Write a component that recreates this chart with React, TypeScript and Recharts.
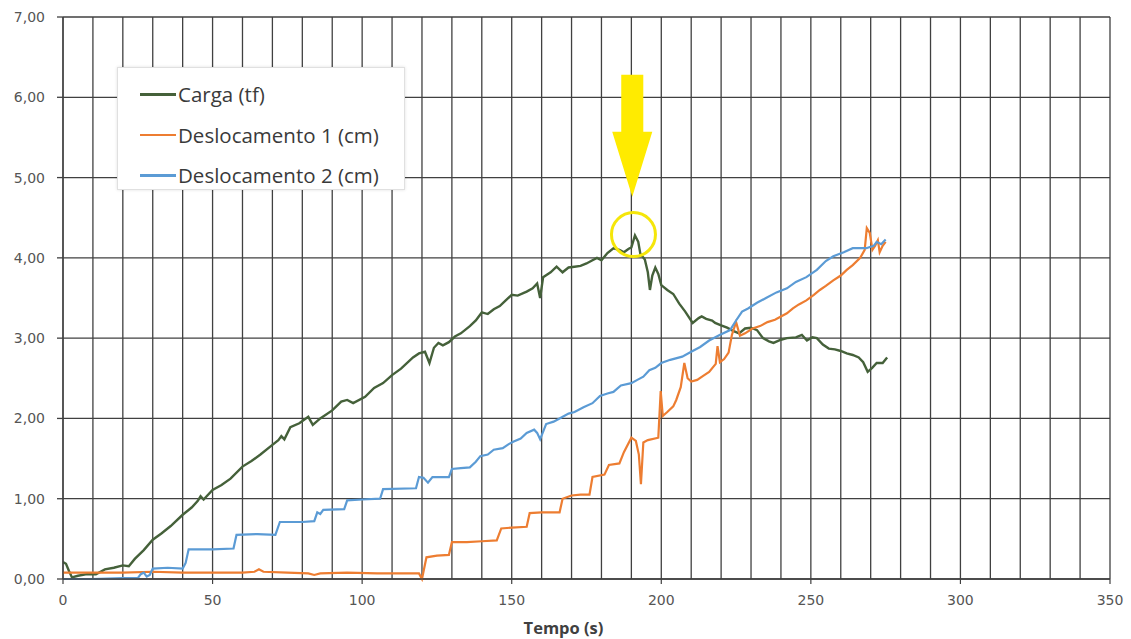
import React from 'react';
import {
  LineChart,
  Line,
  XAxis,
  YAxis,
  CartesianGrid,
  Legend,
  ReferenceDot,
  ReferenceArea,
} from 'recharts';

// ---- Data ----
const cargaT = [0, 1, 2, 3, 5, 8, 11, 14, 17, 20, 22, 24, 27, 30, 33, 36, 40, 43, 45, 46, 47, 50, 53, 56, 60, 63, 66, 70, 72, 73, 74, 76, 79, 82, 83.5, 86, 90, 93, 95, 97, 101, 104, 107, 110, 113, 117, 119, 121, 122.5, 124, 125.5, 127, 129, 131, 133, 136, 138, 140, 142, 144, 146, 148, 150, 152, 155, 157, 158.5, 159.5, 160.5, 163, 165, 167, 169, 171, 173, 175, 177, 178.5, 180, 182, 184, 186, 187.5, 189, 190, 191.2, 192.3, 193, 194.5, 195.5, 196.2, 197, 198, 199, 200, 202, 204, 206, 208, 210.5, 212.5, 213.5, 215, 217, 218, 220, 222, 224, 226, 228, 230, 232, 234, 236, 237.5, 240, 242, 245, 247, 248.7, 250.5, 252, 254, 256, 258, 260, 262, 264, 266, 267.5, 269, 270.5, 272, 274, 275.5];
const cargaV = [0.21, 0.19, 0.1, 0.02, 0.04, 0.06, 0.06, 0.12, 0.14, 0.17, 0.16, 0.25, 0.36, 0.49, 0.57, 0.66, 0.8, 0.89, 0.97, 1.03, 0.99, 1.11, 1.17, 1.25, 1.4, 1.47, 1.55, 1.67, 1.73, 1.78, 1.74, 1.89, 1.94, 2.02, 1.92, 2.0, 2.1, 2.21, 2.23, 2.19, 2.27, 2.38, 2.44, 2.54, 2.62, 2.76, 2.81, 2.83, 2.69, 2.88, 2.94, 2.91, 2.95, 3.02, 3.06, 3.15, 3.22, 3.32, 3.3, 3.36, 3.4, 3.47, 3.54, 3.53, 3.58, 3.62, 3.68, 3.5, 3.76, 3.82, 3.89, 3.82, 3.88, 3.89, 3.9, 3.93, 3.97, 4.0, 3.97, 4.06, 4.12, 4.1, 4.07, 4.11, 4.13, 4.28, 4.2, 4.05, 3.98, 3.82, 3.6, 3.78, 3.88, 3.8, 3.66, 3.6, 3.55, 3.43, 3.33, 3.19, 3.25, 3.27, 3.24, 3.22, 3.19, 3.16, 3.13, 3.09, 3.06, 3.12, 3.13, 3.1, 3.0, 2.96, 2.94, 2.98, 3.0, 3.01, 3.04, 2.97, 3.01, 3.0, 2.92, 2.87, 2.86, 2.84, 2.81, 2.79, 2.76, 2.7, 2.58, 2.63, 2.69, 2.69, 2.76];

const desloc1T = [0, 10, 20, 30, 40, 50, 60, 64, 65.5, 67, 75, 82, 84, 86, 95, 105, 112, 119, 120, 121.5, 125, 129, 130, 135, 140, 145, 146.5, 150, 155, 156, 160, 166, 167, 170, 173, 176, 177, 181, 182.5, 186, 187.5, 190, 191.5, 192.5, 193.2, 194, 195.5, 199, 199.8, 200.5, 202, 204, 205, 206.5, 207.7, 208.8, 210, 212, 214, 216, 218.2, 218.8, 219.6, 221, 222.5, 223.6, 225, 226.3, 228, 230.5, 233, 235.5, 238, 240, 242, 244, 246, 248.5, 251, 253, 255, 257.5, 260, 262, 264, 266.5, 268, 268.7, 269.7, 270.6, 271.5, 272.4, 273, 274, 275];
const desloc1V = [0.08, 0.08, 0.08, 0.09, 0.08, 0.08, 0.08, 0.09, 0.12, 0.09, 0.08, 0.07, 0.05, 0.07, 0.08, 0.07, 0.07, 0.07, 0.0, 0.27, 0.29, 0.3, 0.46, 0.46, 0.47, 0.48, 0.63, 0.64, 0.65, 0.82, 0.83, 0.83, 1.0, 1.04, 1.05, 1.05, 1.27, 1.3, 1.42, 1.44, 1.58, 1.76, 1.72, 1.55, 1.18, 1.7, 1.73, 1.76, 2.34, 2.03, 2.08, 2.15, 2.23, 2.39, 2.69, 2.5, 2.46, 2.48, 2.53, 2.58, 2.68, 2.9, 2.7, 2.74, 2.82, 3.04, 3.2, 3.03, 3.06, 3.12, 3.15, 3.2, 3.23, 3.27, 3.31, 3.37, 3.42, 3.47, 3.54, 3.6, 3.65, 3.72, 3.78, 3.85, 3.91, 4.0, 4.1, 4.37, 4.31, 4.1, 4.15, 4.22, 4.07, 4.15, 4.2];

const desloc2T = [0, 10, 20, 25, 26, 27, 28, 29, 30, 35, 40, 41, 42, 50, 57, 58, 65, 71, 72.5, 80, 84, 85, 86, 87, 94, 95, 100, 106, 107, 118, 119, 120.5, 122, 123.5, 129, 130, 133, 136, 138, 139.5, 142, 144, 147, 149, 150.5, 153, 155, 157.5, 158.5, 159.5, 161.5, 164, 166, 169, 171, 174, 177, 179.5, 182, 184, 186.5, 190, 192, 194, 196, 198, 200, 203, 207, 210, 213, 216, 219.5, 223, 225, 227, 229, 232, 235, 238.5, 242, 245, 248.5, 252, 255, 257.5, 261, 264, 268.5, 271, 272, 273.5, 275];
const desloc2V = [0.0, 0.0, 0.01, 0.01, 0.06, 0.08, 0.03, 0.05, 0.13, 0.14, 0.13, 0.2, 0.37, 0.37, 0.38, 0.55, 0.56, 0.55, 0.71, 0.71, 0.72, 0.83, 0.81, 0.86, 0.87, 0.98, 0.99, 1.0, 1.12, 1.13, 1.27, 1.26, 1.2, 1.27, 1.27, 1.37, 1.38, 1.39, 1.46, 1.53, 1.55, 1.61, 1.63, 1.68, 1.71, 1.75, 1.82, 1.86, 1.82, 1.74, 1.93, 1.96, 2.0, 2.06, 2.08, 2.14, 2.19, 2.28, 2.31, 2.33, 2.41, 2.44, 2.48, 2.52, 2.6, 2.63, 2.69, 2.73, 2.77, 2.83, 2.89, 2.97, 3.04, 3.1, 3.22, 3.33, 3.37, 3.44, 3.5, 3.57, 3.62, 3.7, 3.76, 3.85, 3.96, 4.02, 4.07, 4.12, 4.12, 4.15, 4.2, 4.17, 4.23];

const xTicks = [0, 10, 20, 30, 40, 50, 60, 70, 80, 90, 100, 110, 120, 130, 140, 150, 160, 170, 180, 190, 200, 210, 220, 230, 240, 250, 260, 270, 280, 290, 300, 310, 320, 330, 340, 350];
const yTicks = [0, 1, 2, 3, 4, 5, 6, 7];

const seriesNames = ['Carga (tf)', 'Deslocamento 1 (cm)', 'Deslocamento 2 (cm)'];
const seriesColors = ['#45613a', '#ed7d31', '#5b9bd5'];

// annotation (data coordinates)
const peakT = 190.7;
const peakV = 4.29;
const arrowT = [183.6, 197];
const arrowV = [4.76, 6.28];

const zip = (ts: number[], vs: number[]) => ts.map((t, i) => ({ t, v: vs[i] }));
const cargaData = zip(cargaT, cargaV);
const desloc1Data = zip(desloc1T, desloc1V);
const desloc2Data = zip(desloc2T, desloc2V);

const fmtY = (v: number) => v.toFixed(2).replace('.', ',');

const XTick = (props: any) => {
  const { x, y, payload } = props;
  if (payload.value % 50 !== 0) return <g />;
  return (
    <g>
      <line x1={x} x2={x} y1={y} y2={y + 5} stroke="#404040" strokeWidth={1.2} />
      <text
        x={x}
        y={y + 26}
        textAnchor="middle"
        fontFamily="DejaVu Sans"
        fontSize={14}
        fill="#555"
      >
        {payload.value}
      </text>
    </g>
  );
};

const ArrowShape = (props: any) => {
  const { x, y, width: w, height: h } = props;
  const hs = 0.467;
  const pts = [
    [x + 0.225 * w, y],
    [x + 0.775 * w, y],
    [x + 0.775 * w, y + hs * h],
    [x + w, y + hs * h],
    [x + 0.5 * w, y + h],
    [x, y + hs * h],
    [x + 0.225 * w, y + hs * h],
  ]
    .map((p) => p.join(','))
    .join(' ');
  return <polygon points={pts} fill="#ffeb00" />;
};

const renderLegend = (props: any) => {
  const { payload } = props;
  return (
    <div
      style={{
        width: 288,
        height: 123,
        boxSizing: 'border-box',
        background: '#fff',
        border: '1px solid #e0e0e0',
        boxShadow: '0 0 3px rgba(0,0,0,0.12)',
        paddingTop: 6,
      }}
    >
      {(payload || []).map((entry: any, i: number) => (
        <div
          key={i}
          style={{
            display: 'flex',
            alignItems: 'center',
            height: 40.5,
            marginLeft: 22,
          }}
        >
          <div style={{ width: 36, height: 2.5, background: entry.color, marginRight: 2 }} />
          <span
            style={{
              fontFamily: 'Open Sans',
              fontSize: 20.5,
              color: '#3a3a3a',
              whiteSpace: 'nowrap',
            }}
          >
            {entry.value}
          </span>
        </div>
      ))}
    </div>
  );
};

export default function App() {
  return (
    <div style={{ position: 'absolute', left: 0, top: 0, width: 1131, height: 639, background: '#fff' }}>
      <LineChart
        width={1131}
        height={639}
        margin={{ top: 17, right: 21, bottom: 15, left: 8 }}
      >
        <CartesianGrid stroke="#404040" strokeWidth={1.3} />
        <XAxis
          dataKey="t"
          type="number"
          domain={[0, 350]}
          ticks={xTicks}
          interval={0}
          allowDataOverflow
          height={45}
          tickSize={0}
          tickMargin={0}
          tickLine={false}
          tick={<XTick />}
          axisLine={{ stroke: '#404040', strokeWidth: 1.3 }}
          label={{
            value: 'Tempo (s)',
            position: 'insideBottom',
            offset: -10,
            dx: -23,
            style: { fontFamily: 'Open Sans', fontWeight: 700, fontSize: 16.5, fill: '#404040' },
          }}
        />
        <YAxis
          type="number"
          domain={[0, 7]}
          ticks={yTicks}
          interval={0}
          width={55}
          tickSize={6}
          tickMargin={12}
          tickFormatter={fmtY}
          tickLine={{ stroke: '#404040', strokeWidth: 1.3 }}
          axisLine={{ stroke: '#404040', strokeWidth: 1.3 }}
          tick={{ fontFamily: 'DejaVu Sans', fontSize: 14, fill: '#555' }}
        />
        <Line
          data={cargaData}
          dataKey="v"
          name={seriesNames[0]}
          stroke={seriesColors[0]}
          strokeWidth={2.4}
          dot={false}
          isAnimationActive={false}
          type="linear"
        />
        <Line
          data={desloc1Data}
          dataKey="v"
          name={seriesNames[1]}
          stroke={seriesColors[1]}
          strokeWidth={2.2}
          dot={false}
          isAnimationActive={false}
          type="linear"
        />
        <Line
          data={desloc2Data}
          dataKey="v"
          name={seriesNames[2]}
          stroke={seriesColors[2]}
          strokeWidth={2.2}
          dot={false}
          isAnimationActive={false}
          type="linear"
        />
        <ReferenceArea
          x1={arrowT[0]}
          x2={arrowT[1]}
          y1={arrowV[0]}
          y2={arrowV[1]}
          shape={<ArrowShape />}
        />
        <ReferenceDot
          x={peakT}
          y={peakV}
          r={22}
          fill="none"
          stroke="#f5e60a"
          strokeWidth={3}
        />
        <Legend
          layout="vertical"
          align="center"
          verticalAlign="middle"
          wrapperStyle={{ left: 117, top: 67, width: 288 }}
          content={renderLegend}
        />
      </LineChart>
    </div>
  );
}
